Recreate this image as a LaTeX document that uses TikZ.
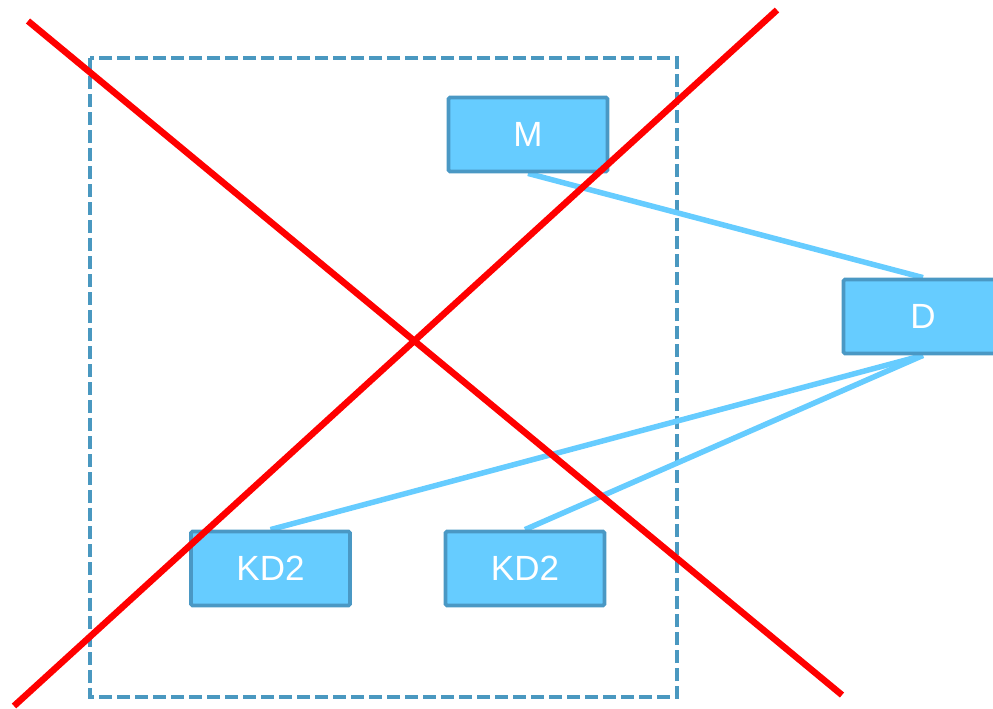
\documentclass[tikz,border=0pt]{standalone}
\usepackage{fontspec}
\setmainfont{Liberation Sans}
\usetikzlibrary{backgrounds}
\definecolor{boxfill}{HTML}{66CCFF}
\definecolor{boxline}{HTML}{4A98C4}
\definecolor{frameline}{HTML}{4A98C0}
\definecolor{linkcol}{HTML}{66CCFF}
\definecolor{crosscol}{HTML}{FF0000}
\begin{document}
\begin{tikzpicture}[x=1pt,y=-1pt,
  blockbox/.style={draw=boxline,fill=boxfill,line width=3.8pt,rounded corners=1.5pt,
    minimum width=159pt,minimum height=74pt,inner sep=0pt,text=white,
    font=\fontsize{35}{40}\selectfont},
  linkline/.style={draw=linkcol,line width=5.5pt},
  crossline/.style={draw=crosscol,line width=6.5pt},
  frame/.style={draw=frameline,line width=3.5pt,dash pattern=on 13pt off 5pt}]
\useasboundingbox (0,0) rectangle (993,709);
\clip (0,0) rectangle (993,709);
\node[blockbox] (m) at (528,134.5) {M};
\node[blockbox] (d) at (923,316.5) {D};
\node[blockbox] (k1) at (270.5,568.5) {KD2};
\node[blockbox] (k2) at (525,568.5) {KD2};
\begin{scope}[on background layer]
\draw[frame] (90,58) rectangle (677,697);
\draw[linkline] (m.south) -- (d.north);
\draw[linkline] (d.south) -- (k1.north);
\draw[linkline] (d.south) -- (k2.north);
\end{scope}
\coordinate (a1) at (28,21);
\coordinate (a2) at (842,695);
\coordinate (b1) at (14,706);
\coordinate (b2) at (777,10);
\draw[crossline] (a1) -- (a2);
\draw[crossline] (b1) -- (b2);
\end{tikzpicture}
\end{document}
